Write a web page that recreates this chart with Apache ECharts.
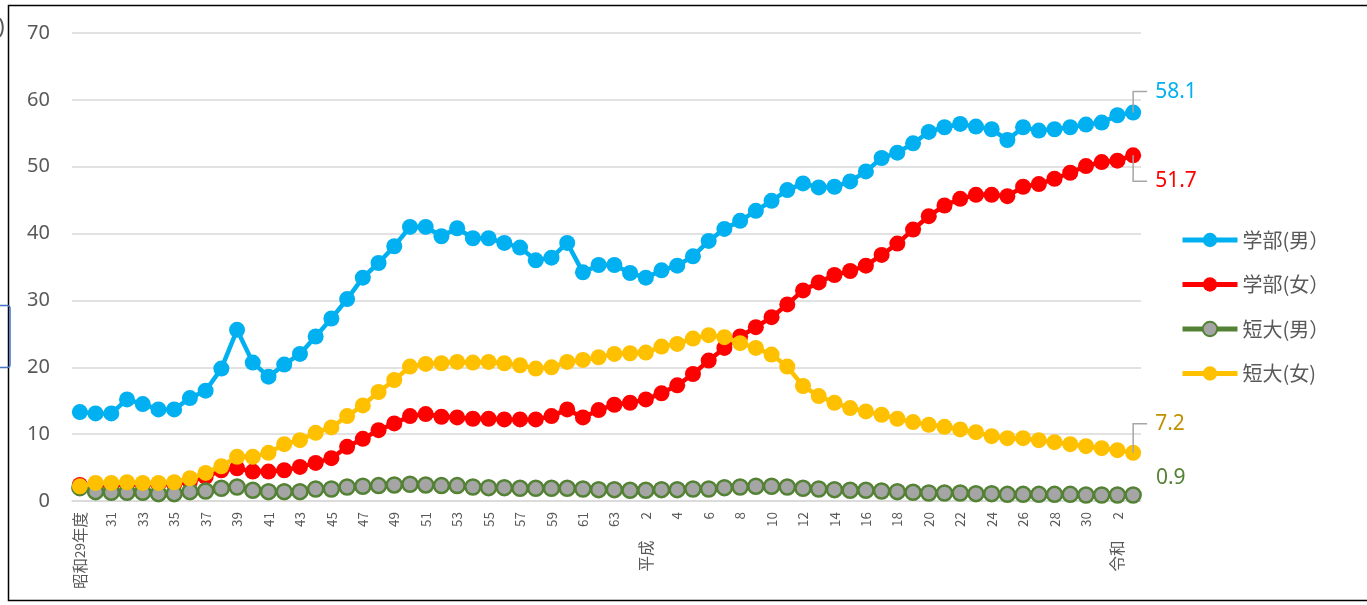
<!DOCTYPE html>
<html>
<head>
<meta charset="utf-8">
<script src="https://cdn.jsdelivr.net/npm/echarts@6/dist/echarts.min.js"></script>
<style>
  html, body { margin: 0; padding: 0; background: #ffffff; }
  #chart { width: 1367px; height: 605px; }
</style>
</head>
<body>
<div id="chart"></div>
<script>
// 年度ラベル（昭和29年度〜令和3年度）
const years = [
  "昭和29年度","30","31","32","33","34","35","36","37","38","39","40","41","42","43","44","45","46","47","48","49",
  "50","51","52","53","54","55","56","57","58","59","60","61","62","63",
  "元","2","3","4","5","6","7","8","9","10","11","12","13","14","15","16","17","18","19","20",
  "21","22","23","24","25","26","27","28","29","30",
  "元","2","3"
];
// 元号の切り替わり位置に添える表記
const eraMarks = { 36: "平成", 66: "令和" };

const seriesNames = ["学部(男）", "学部(女）", "短大(男）", "短大(女)"];

// 進学率（%）
const univMale = [
  13.3, 13.1, 13.1, 15.2, 14.5, 13.7, 13.7, 15.4, 16.5, 19.8, 25.6, 20.7, 18.6, 20.4, 22.0, 24.6, 27.3, 30.2, 33.4, 35.6, 38.1,
  41.0, 41.0, 39.6, 40.8, 39.3, 39.3, 38.6, 37.9, 36.0, 36.4, 38.6, 34.2, 35.3, 35.3,
  34.1, 33.4, 34.5, 35.2, 36.6, 38.9, 40.7, 41.9, 43.4, 44.9, 46.5, 47.5, 46.9, 47.0, 47.8, 49.3, 51.3, 52.1, 53.5, 55.2,
  55.9, 56.4, 56.0, 55.6, 54.0, 55.9, 55.4, 55.6, 55.9, 56.3,
  56.6, 57.7, 58.1
];
const univFemale = [
  2.4, 2.4, 2.3, 2.5, 2.5, 2.5, 2.5, 2.9, 3.6, 4.6, 4.9, 4.4, 4.4, 4.6, 5.1, 5.7, 6.4, 8.1, 9.3, 10.6, 11.6,
  12.7, 13.0, 12.6, 12.5, 12.3, 12.3, 12.2, 12.2, 12.2, 12.7, 13.7, 12.5, 13.6, 14.4,
  14.7, 15.2, 16.1, 17.3, 19.0, 21.0, 22.9, 24.6, 26.0, 27.5, 29.4, 31.5, 32.7, 33.8, 34.4, 35.2, 36.8, 38.5, 40.6, 42.6,
  44.2, 45.2, 45.8, 45.8, 45.6, 47.0, 47.4, 48.2, 49.1, 50.1,
  50.7, 50.9, 51.7
];
const juniorMale = [
  2.0, 1.4, 1.3, 1.3, 1.3, 1.1, 1.1, 1.4, 1.5, 1.9, 2.1, 1.6, 1.4, 1.4, 1.4, 1.8, 1.8, 2.1, 2.2, 2.3, 2.4,
  2.5, 2.4, 2.3, 2.3, 2.1, 2.0, 2.0, 1.9, 1.9, 1.9, 1.9, 1.8, 1.7, 1.7,
  1.6, 1.6, 1.7, 1.7, 1.8, 1.8, 2.0, 2.1, 2.2, 2.2, 2.1, 1.9, 1.8, 1.7, 1.6, 1.6, 1.5, 1.4, 1.3, 1.2,
  1.2, 1.2, 1.1, 1.1, 1.0, 1.0, 1.0, 1.0, 1.0, 0.9,
  0.9, 0.9, 0.9
];
const juniorFemale = [
  2.2, 2.7, 2.7, 2.8, 2.7, 2.7, 2.8, 3.4, 4.2, 5.2, 6.6, 6.6, 7.2, 8.5, 9.1, 10.2, 11.0, 12.7, 14.3, 16.3, 18.1,
  20.1, 20.5, 20.6, 20.8, 20.7, 20.8, 20.6, 20.3, 19.8, 20.0, 20.8, 21.1, 21.5, 22.0,
  22.1, 22.2, 23.1, 23.5, 24.3, 24.8, 24.5, 23.6, 22.9, 21.9, 20.1, 17.2, 15.7, 14.7, 13.9, 13.4, 12.9, 12.3, 11.8, 11.4,
  11.1, 10.7, 10.3, 9.7, 9.4, 9.4, 9.1, 8.8, 8.5, 8.2,
  7.9, 7.6, 7.2
];

const yTicks = { min: 0, max: 70, interval: 10 };

const FONT = "'Noto Sans', 'Noto Sans CJK JP', sans-serif";
const CJK = "'Noto Sans CJK JP', sans-serif";
const TEXT = "#595959";

// 系列ごとの見た目と末尾ラベルの置き方
const styles = [
  { color: "#00B0F0", fill: "#00B0F0", border: 0, labelColor: "#00B0F0", dy: -21, leader: true },
  { color: "#FF0000", fill: "#FF0000", border: 0, labelColor: "#FF0000", dy: 26, leader: true },
  { color: "#548235", fill: "#A5A5A5", border: 2.5, labelColor: "#548235", dy: -17, leader: false },
  { color: "#FFC000", fill: "#FFC000", border: 0, labelColor: "#BF9000", dy: -29, leader: true }
];
const values = [univMale, univFemale, juniorMale, juniorFemale];

function buildData(arr, st) {
  return arr.map((v, i) => {
    if (i !== arr.length - 1) return v;
    return {
      value: v,
      label: {
        show: true,
        position: "right",
        distance: 14,
        offset: [0, st.dy],
        color: st.labelColor,
        fontSize: 21,
        fontFamily: FONT,
        formatter: (p) => p.value.toFixed(1)
      }
    };
  });
}

// 漢字部分は少し大きめ、数字は標準の大きさで組む
function richLabel(text) {
  return text
    .split(/([^\x00-\x7F]+)/)
    .filter((s) => s.length)
    .map((s) => (/[^\x00-\x7F]/.test(s) ? "{c|" + s + "}" : "{n|" + s + "}"))
    .join("");
}

const chart = echarts.init(document.getElementById("chart"), null, { renderer: "canvas" });

const series = values.map((arr, k) => {
  const st = styles[k];
  return {
    name: seriesNames[k],
    type: "line",
    data: buildData(arr, st),
    symbol: "circle",
    symbolSize: st.border ? 15 : 16,
    showAllSymbol: true,
    lineStyle: { color: st.color, width: 4.5 },
    itemStyle: { color: st.fill, borderColor: st.color, borderWidth: st.border },
    emphasis: { disabled: true },
    animation: false,
    z: 2 + k
  };
});

chart.setOption({
  backgroundColor: "#ffffff",
  animation: false,
  grid: { left: 72, right: 226, top: 33, bottom: 104, containLabel: false },
  legend: {
    orient: "vertical",
    left: 1180,
    top: 230,
    padding: 0,
    itemWidth: 55,
    itemHeight: 18,
    itemGap: 24.5,
    lineStyle: { width: 5 },
    textStyle: { color: TEXT, fontSize: 20, fontFamily: CJK },
    data: seriesNames
  },
  xAxis: {
    type: "category",
    data: years,
    boundaryGap: true,
    axisLine: { lineStyle: { color: "#D9D9D9", width: 1.5 } },
    axisTick: { show: false },
    axisLabel: {
      interval: 1,
      rotate: 90,
      margin: 11,
      color: TEXT,
      fontSize: 13,
      fontFamily: CJK,
      formatter: (val, idx) => {
        const main = richLabel(val);
        return eraMarks[idx] ? richLabel(eraMarks[idx]) + "{s| }" + main : main;
      },
      rich: {
        c: { fontSize: 15.5, fontFamily: CJK, color: TEXT, lineHeight: 18, verticalAlign: "middle" },
        n: { fontSize: 13.5, fontFamily: CJK, color: TEXT, lineHeight: 18, verticalAlign: "middle" },
        s: { width: 21, fontSize: 13, lineHeight: 18, verticalAlign: "middle" }
      }
    },
    splitLine: { show: false }
  },
  yAxis: {
    type: "value",
    min: yTicks.min,
    max: yTicks.max,
    interval: yTicks.interval,
    axisLine: { show: false },
    axisTick: { show: false },
    axisLabel: { color: TEXT, fontSize: 20, fontFamily: FONT, margin: 22 },
    splitLine: { lineStyle: { color: "#D9D9D9", width: 1.5 } }
  },
  series: series
});

// 末尾の値ラベルへの引き出し線と枠
const graphics = [];
values.forEach((arr, k) => {
  const st = styles[k];
  if (!st.leader) return;
  const last = arr.length - 1;
  const p = chart.convertToPixel({ seriesIndex: k }, [last, arr[last]]);
  const yEnd = p[1] + st.dy;
  graphics.push({
    type: "polyline",
    z: 100,
    shape: { points: [[p[0], p[1]], [p[0], yEnd], [p[0] + 14, yEnd]] },
    style: { stroke: "#A6A6A6", lineWidth: 1.5, fill: null }
  });
});
graphics.push({
  type: "rect",
  z: 50,
  shape: { x: 8.5, y: 5.5, width: 1370, height: 595 },
  style: { fill: null, stroke: "#000000", lineWidth: 1.5 }
});
graphics.push({
  type: "text",
  z: 50,
  left: -27,
  top: 17,
  style: { text: "(%)", fill: TEXT, fontSize: 22, fontFamily: FONT }
});
graphics.push({
  type: "rect",
  z: 60,
  shape: { x: -20, y: 305.5, width: 30, height: 62, r: 3 },
  style: { fill: null, stroke: "#4472C4", lineWidth: 1.5 }
});
chart.setOption({ graphic: graphics });
</script>
</body>
</html>
